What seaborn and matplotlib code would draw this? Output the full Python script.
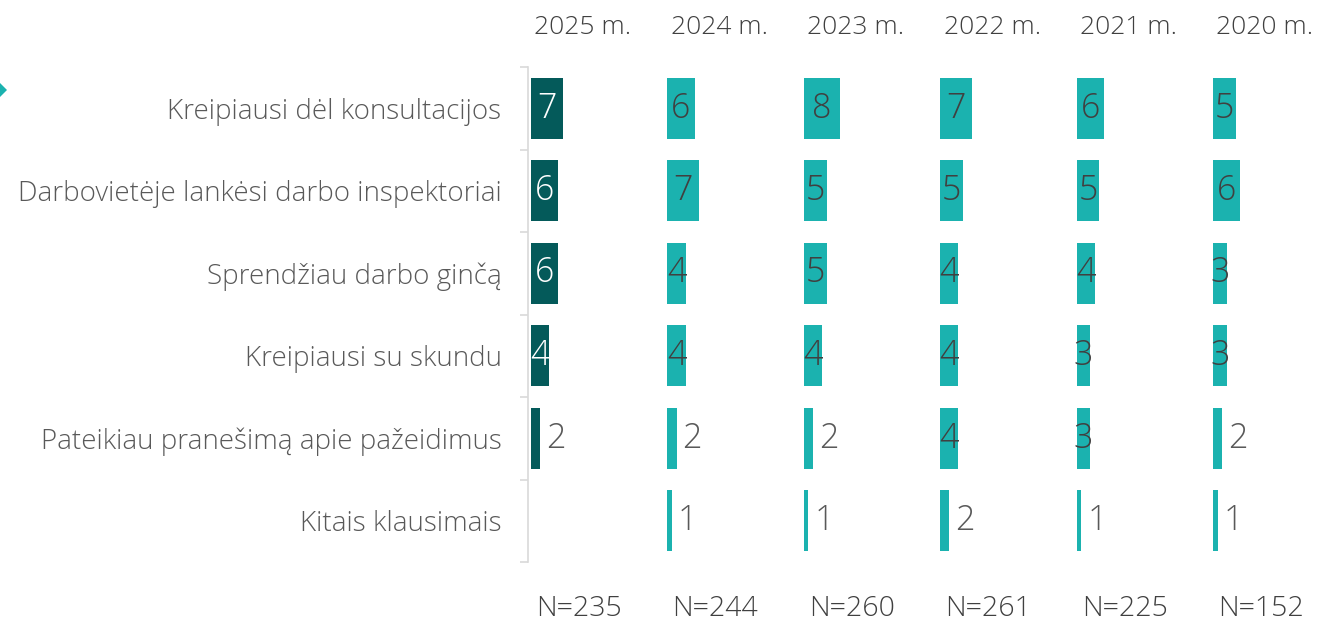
import matplotlib
matplotlib.use("Agg")
import matplotlib.pyplot as plt
import seaborn as sns
import pandas as pd
import numpy as np
from matplotlib.patches import Polygon

# ---------------- data ----------------
categories = [
    "Kreipiausi dėl konsultacijos",
    "Darbovietėje lankėsi darbo inspektoriai",
    "Sprendžiau darbo ginčą",
    "Kreipiausi su skundu",
    "Pateikiau pranešimą apie pažeidimus",
    "Kitais klausimais",
]
years = ["2025 m.", "2024 m.", "2023 m.", "2022 m.", "2021 m.", "2020 m."]
sample_sizes = ["N=235", "N=244", "N=260", "N=261", "N=225", "N=152"]

values_2025 = [7, 6, 6, 4, 2, None]
values_2024 = [6, 7, 4, 4, 2, 1]
values_2023 = [8, 5, 5, 4, 2, 1]
values_2022 = [7, 5, 4, 4, 4, 2]
values_2021 = [6, 5, 4, 3, 3, 1]
values_2020 = [5, 6, 3, 3, 2, 1]
all_values = [values_2025, values_2024, values_2023, values_2022, values_2021, values_2020]

# ---------------- style ----------------
sns.set_theme(style="white")
plt.rcParams["font.family"] = ["Open Sans", "DejaVu Sans"]
plt.rcParams["font.weight"] = "light"

DARK = "#045A5A"
LIGHT = "#1BB2AF"
GRID = "#D9D9D9"
TXT = "#595959"
HDR = "#404040"

W, H = 1319, 623
fig = plt.figure(figsize=(W / 100, H / 100), dpi=100)

px_per_unit = 4.55
col_origin0 = 531
col_step = 136.4
col_w = 136
top_px, bot_px = 67, 562

for i, (yr, n, vals) in enumerate(zip(years, sample_sizes, all_values)):
    left = col_origin0 + i * col_step
    ax = fig.add_axes([left / W, (H - bot_px) / H, col_w / W, (bot_px - top_px) / H])
    df = pd.DataFrame({"cat": categories, "val": vals}).dropna()
    sns.barplot(data=df, x="val", y="cat", order=categories, ax=ax,
                color=DARK if i == 0 else LIGHT, saturation=1,
                width=0.74, errorbar=None, linewidth=0, orient="h")
    ax.set_xlim(0, col_w / px_per_unit)
    ax.set_ylim(5.5, -0.5)
    ax.set_xlabel("")
    ax.set_ylabel("")
    ax.set_xticks([])
    for s in ax.spines.values():
        s.set_visible(False)

    if i == 0:
        ax.spines["left"].set_visible(True)
        ax.spines["left"].set_color(GRID)
        ax.spines["left"].set_linewidth(1.2)
        ax.spines["left"].set_position(("outward", 2.2))
        ax.set_yticks(range(len(categories)))
        ax.set_yticklabels(categories)
        ax.set_yticks(np.arange(-0.5, len(categories)), minor=True)
        ax.tick_params(axis="y", which="major", length=0, pad=19,
                       labelsize=20, labelcolor=TXT)
        ax.tick_params(axis="y", which="minor", length=6, width=1.2,
                       color=GRID, left=True)
        for lab in ax.get_yticklabels():
            lab.set_fontweight("light")
    else:
        ax.set_yticks([])

    # value labels
    for j, v in enumerate(vals):
        if v is None:
            continue
        if v >= 3:
            ax.text(v / 2, j, f"{v:g}", ha="center", va="center",
                    fontsize=24.5, fontweight="light",
                    color="white" if i == 0 else HDR)
        else:
            ax.annotate(f"{v:g}", (v, j), xytext=(6, 0), textcoords="offset pixels",
                        ha="left", va="center", fontsize=24.5,
                        fontweight="light", color=TXT)

    ax.text(52 / col_w, 1 + (top_px - 27) / (bot_px - top_px), yr,
            transform=ax.transAxes, ha="center", va="center",
            fontsize=19, fontweight="light", color=HDR)
    ax.text(48 / col_w, -(609 - bot_px) / (bot_px - top_px), n,
            transform=ax.transAxes, ha="center", va="center",
            fontsize=20.5, fontweight="light", color=HDR)

# decorative diamond at the left edge
fig.patches.append(Polygon([[-3 / W, (H - 80) / H], [7 / W, (H - 90) / H],
                            [-3 / W, (H - 100) / H], [-13 / W, (H - 90) / H]],
                           closed=True, transform=fig.transFigure,
                           facecolor=LIGHT, edgecolor="none"))

fig.savefig("out.png", dpi=100, facecolor="white")
